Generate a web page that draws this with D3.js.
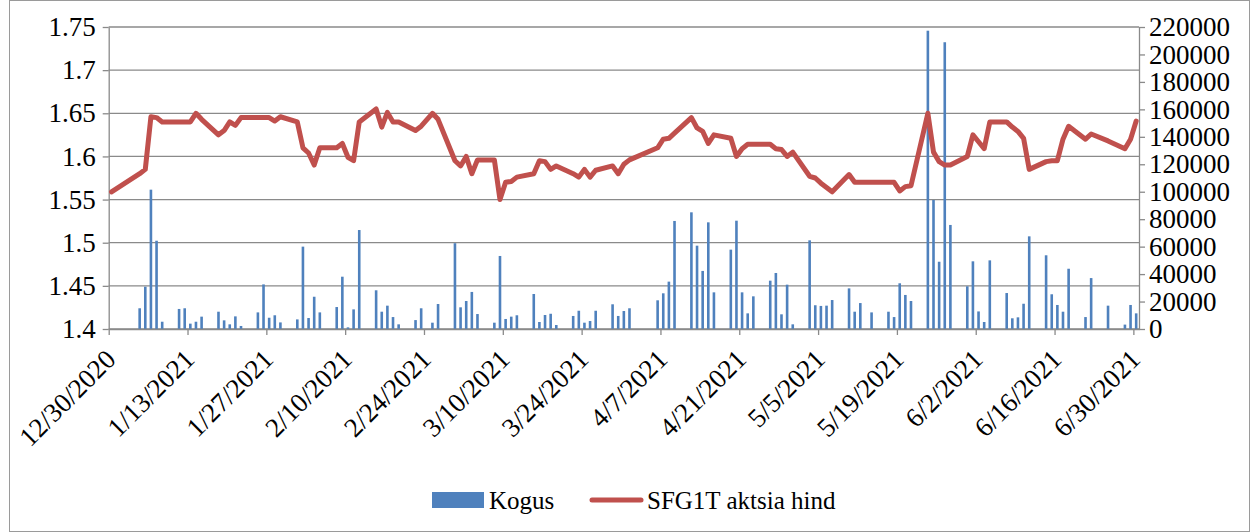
<!DOCTYPE html>
<html lang="en">

<head>
    <meta charset="UTF-8">
    <title>Kogus ja SFG1T aktsia hind</title>
    <style>
        body {
            margin: 0;
            background: #fff;
        }

        svg {
            display: block;
        }

        text {
            font-family: "Liberation Serif", "Times New Roman", serif;
            font-size: 25px;
            fill: #000;
        }
    </style>
</head>

<body>
    <svg></svg>

    <script src="https://d3js.org/d3.v7.min.js"></script>
    <script>
        const width = 1253;
        const height = 532;

        // trading days
        const dates = [
            "12/30/2020",
            "1/4/2021", "1/5/2021", "1/6/2021", "1/7/2021", "1/8/2021",
            "1/11/2021", "1/12/2021", "1/13/2021", "1/14/2021", "1/15/2021",
            "1/18/2021", "1/19/2021", "1/20/2021", "1/21/2021", "1/22/2021",
            "1/25/2021", "1/26/2021", "1/27/2021", "1/28/2021", "1/29/2021",
            "2/1/2021", "2/2/2021", "2/3/2021", "2/4/2021", "2/5/2021",
            "2/8/2021", "2/9/2021", "2/10/2021", "2/11/2021", "2/12/2021",
            "2/15/2021", "2/16/2021", "2/17/2021", "2/18/2021", "2/19/2021",
            "2/22/2021", "2/23/2021", "2/25/2021", "2/26/2021",
            "3/1/2021", "3/2/2021", "3/3/2021", "3/4/2021", "3/5/2021",
            "3/8/2021", "3/9/2021", "3/10/2021", "3/11/2021", "3/12/2021",
            "3/15/2021", "3/16/2021", "3/17/2021", "3/18/2021", "3/19/2021",
            "3/22/2021", "3/23/2021", "3/24/2021", "3/25/2021", "3/26/2021",
            "3/29/2021", "3/30/2021", "3/31/2021", "4/1/2021",
            "4/6/2021", "4/7/2021", "4/8/2021", "4/9/2021",
            "4/12/2021", "4/13/2021", "4/14/2021", "4/15/2021", "4/16/2021",
            "4/19/2021", "4/20/2021", "4/21/2021", "4/22/2021", "4/23/2021",
            "4/26/2021", "4/27/2021", "4/28/2021", "4/29/2021", "4/30/2021",
            "5/3/2021", "5/4/2021", "5/5/2021", "5/6/2021", "5/7/2021",
            "5/10/2021", "5/11/2021", "5/12/2021", "5/13/2021", "5/14/2021",
            "5/17/2021", "5/18/2021", "5/19/2021", "5/20/2021", "5/21/2021",
            "5/24/2021", "5/25/2021", "5/26/2021", "5/27/2021", "5/28/2021",
            "5/31/2021", "6/1/2021", "6/2/2021", "6/3/2021", "6/4/2021",
            "6/7/2021", "6/8/2021", "6/9/2021", "6/10/2021", "6/11/2021",
            "6/14/2021", "6/15/2021", "6/16/2021", "6/17/2021", "6/18/2021",
            "6/21/2021", "6/22/2021", "6/25/2021",
            "6/28/2021", "6/29/2021", "6/30/2021"
        ];

        // Kogus (traded volume)
        const volume = [
            0,
            15100, 30800, 101500, 64300, 5300,
            14600, 15100, 3900, 5300, 9000,
            12600, 6300, 3400, 9200, 2200,
            12100, 32500, 8200, 10000, 4800,
            7000, 60000, 8000, 23500, 12100,
            16000, 38100, 1200, 14300, 72100,
            28200, 12600, 17000, 8700, 3400,
            6500, 15100, 4600, 18200,
            62500, 15800, 20400, 27000, 10900,
            4600, 53200, 7300, 9000, 10000,
            25500, 5100, 10200, 11100, 2900,
            9500, 13300, 4600, 5800, 13300,
            18000, 9500, 13100, 15100,
            20900, 26000, 34500, 78700,
            85000, 60700, 42300, 77700, 26700,
            57800, 78900, 26700, 11400, 23800,
            35200, 40800, 10700, 32300, 3400,
            64600, 17300, 16800, 17000, 21100,
            29600, 12600, 18900, 0, 12100,
            12600, 8700, 33300, 24800, 20400,
            217300, 94000, 49000, 208900, 75800,
            31100, 49300, 12800, 5100, 50000,
            26200, 7800, 8500, 18400, 67500,
            53700, 25300, 17500, 12600, 43900,
            8700, 37100, 17000,
            3200, 17500, 11400
        ];

        // SFG1T aktsia hind (closing price)
        const price = [
            1.559,
            1.580, 1.585, 1.646, 1.645, 1.640,
            1.640, 1.640, 1.640, 1.650, 1.643,
            1.625, 1.630, 1.640, 1.636, 1.645,
            1.645, 1.645, 1.645, 1.641, 1.646,
            1.640, 1.610, 1.604, 1.590, 1.610,
            1.610, 1.615, 1.599, 1.595, 1.640,
            1.655, 1.634, 1.651, 1.640, 1.640,
            1.630, 1.635, 1.650, 1.643,
            1.595, 1.589, 1.600, 1.580, 1.596,
            1.596, 1.550, 1.570, 1.571, 1.576,
            1.580, 1.595, 1.594, 1.585, 1.589,
            1.580, 1.576, 1.585, 1.576, 1.584,
            1.589, 1.580, 1.591, 1.596,
            1.610, 1.620, 1.621, 1.627,
            1.645, 1.633, 1.629, 1.615, 1.625,
            1.621, 1.600, 1.609, 1.614, 1.614,
            1.614, 1.609, 1.608, 1.600, 1.605,
            1.577, 1.575, 1.569, 1.564, 1.559,
            1.579, 1.570, 1.570, 1.570, 1.570,
            1.570, 1.570, 1.560, 1.565, 1.566,
            1.650, 1.605, 1.594, 1.590, 1.590,
            1.600, 1.625, 1.617, 1.609, 1.640,
            1.640, 1.634, 1.629, 1.621, 1.585,
            1.594, 1.595, 1.595, 1.620, 1.635,
            1.620, 1.626, 1.618,
            1.609, 1.620, 1.641
        ];

        const priceTicks = [1.4, 1.45, 1.5, 1.55, 1.6, 1.65, 1.7, 1.75];
        const volumeTicks = [0, 20000, 40000, 60000, 80000, 100000, 120000, 140000, 160000, 180000, 200000, 220000];
        const legendLabels = ["Kogus", "SFG1T aktsia hind"];

        const parseDate = d3.timeParse("%m/%d/%Y");
        const fmtDate = d3.timeFormat("%-m/%-d/%Y");

        const data = dates.map((d, i) => ({
            date: parseDate(d),
            volume: volume[i],
            price: price[i]
        }));

        const plot = { left: 108.7, right: 1139, top: 27, bottom: 329 };
        const gridColor = "#8a8a8a";
        const blue = "#4f81bd";
        const red = "#c0504d";

        const svg = d3.select("svg")
            .attr("width", width)
            .attr("height", height);

        // outer chart border
        svg.append("rect")
            .attr("x", 9.5).attr("y", 0.5)
            .attr("width", 1240).attr("height", 531)
            .attr("fill", "none")
            .attr("stroke", "#9a9a9a");

        const start = parseDate("12/30/2020");
        const end = parseDate("7/1/2021");

        const x = d3.scaleTime()
            .domain([start, end])
            .range([plot.left, plot.right]);

        const yL = d3.scaleLinear()
            .domain([1.4, 1.75])
            .range([plot.bottom, plot.top]);

        const yR = d3.scaleLinear()
            .domain([0, 220000])
            .range([plot.bottom, plot.top]);

        // bars and points sit in the middle of their day slot
        const cx = d => x(d3.timeHour.offset(d.date, 12));

        // gridlines
        svg.append("g")
            .selectAll("line")
            .data(priceTicks)
            .join("line")
            .attr("x1", plot.left)
            .attr("x2", plot.right)
            .attr("y1", d => yL(d))
            .attr("y2", d => yL(d))
            .attr("stroke", gridColor)
            .attr("stroke-width", 1.3);

        // volume bars
        svg.append("g")
            .selectAll("rect")
            .data(data.filter(d => d.volume > 0))
            .join("rect")
            .attr("x", d => cx(d) - 1.3)
            .attr("width", 2.6)
            .attr("y", d => yR(d.volume))
            .attr("height", d => yR(0) - yR(d.volume))
            .attr("fill", blue);

        // axes
        const styleAxis = g => {
            g.selectAll(".domain").attr("stroke", gridColor).attr("stroke-width", 1.3);
            g.selectAll(".tick line").attr("stroke", gridColor).attr("stroke-width", 1.3);
            g.selectAll(".tick text")
                .style("font-family", '"Liberation Serif", "Times New Roman", serif')
                .style("font-size", "27px")
                .attr("fill", "#000");
        };

        svg.append("g")
            .attr("transform", `translate(${plot.left},0)`)
            .call(d3.axisLeft(yL)
                .tickValues(priceTicks)
                .tickSize(6)
                .tickSizeOuter(0)
                .tickPadding(7)
                .tickFormat(d => String(+d.toFixed(2))))
            .call(styleAxis);

        svg.append("g")
            .attr("transform", `translate(${plot.right},0)`)
            .call(d3.axisRight(yR)
                .tickValues(volumeTicks)
                .tickSize(6)
                .tickSizeOuter(0)
                .tickPadding(4)
                .tickFormat(d3.format("d")))
            .call(styleAxis);

        const dateTicks = d3.timeDay.range(start, end, 14);

        const xAxis = svg.append("g")
            .attr("transform", `translate(0,${plot.bottom})`)
            .call(d3.axisBottom(x)
                .tickValues(dateTicks)
                .tickSize(6)
                .tickSizeOuter(0)
                .tickFormat(fmtDate))
            .call(styleAxis);

        xAxis.selectAll(".tick text")
            .attr("text-anchor", "end")
            .attr("dy", null)
            .attr("y", 0)
            .attr("x", 0)
            .attr("transform", "translate(8,32) rotate(-45)");

        // price line
        const line = d3.line()
            .x(cx)
            .y(d => yL(d.price));

        svg.append("path")
            .datum(data)
            .attr("d", line)
            .attr("fill", "none")
            .attr("stroke", red)
            .attr("stroke-width", 5)
            .attr("stroke-linejoin", "round")
            .attr("stroke-linecap", "round");

        // legend
        const legend = svg.append("g");

        legend.append("rect")
            .attr("x", 432).attr("y", 492)
            .attr("width", 52).attr("height", 16)
            .attr("fill", blue);

        legend.append("text")
            .attr("x", 489).attr("y", 509)
            .text(legendLabels[0]);

        legend.append("line")
            .attr("x1", 592).attr("x2", 641)
            .attr("y1", 500).attr("y2", 500)
            .attr("stroke", red)
            .attr("stroke-width", 5)
            .attr("stroke-linecap", "round");

        legend.append("text")
            .attr("x", 647).attr("y", 509)
            .text(legendLabels[1]);
    </script>
</body>

</html>
